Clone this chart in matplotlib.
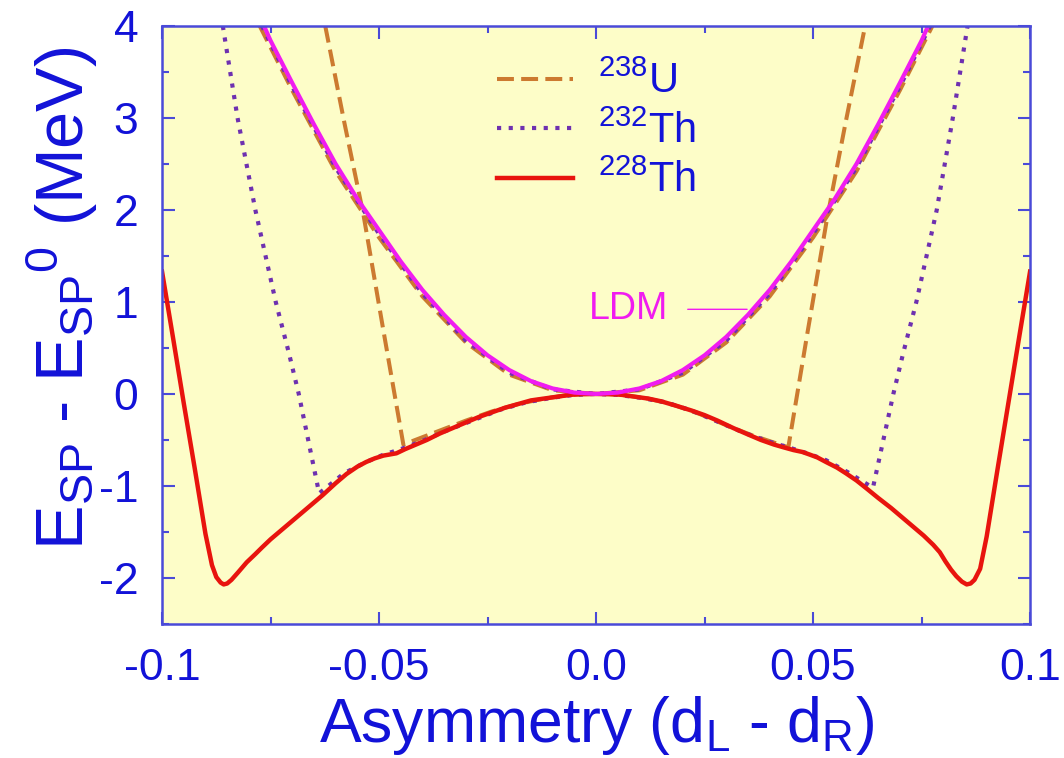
import numpy as np
import matplotlib
matplotlib.use('Agg')
import matplotlib.pyplot as plt
from matplotlib.ticker import MultipleLocator, FixedLocator

plt.rcParams['font.family'] = ['Liberation Sans', 'DejaVu Sans']
plt.rcParams['mathtext.default'] = 'regular'
plt.rcParams['axes.unicode_minus'] = False

# 228Th (solid red)
x_th228 = [-0.100, -0.0975, -0.095, -0.0925, -0.090, -0.0885, -0.0875, -0.0865, -0.0858,
           -0.0850, -0.0840, -0.0825, -0.0805, -0.0785, -0.0770, -0.0750, -0.0730, -0.0705,
           -0.0680, -0.0655, -0.0630, -0.0600, -0.0575, -0.0550, -0.0530, -0.0510, -0.0490,
           -0.0460, -0.0440, -0.0420, -0.0390, -0.0360, -0.0330, -0.0300, -0.0270, -0.0240,
           -0.0210, -0.0180, -0.0150, -0.0120, -0.0090, -0.0060, -0.0030, 0.0,
           0.003, 0.006, 0.009, 0.012, 0.015, 0.0186, 0.022, 0.025, 0.028, 0.0316, 0.035,
           0.038, 0.041, 0.0432, 0.0455, 0.0475, 0.0493, 0.051, 0.053, 0.0555, 0.0575,
           0.060, 0.0624, 0.065, 0.068, 0.0705, 0.073, 0.0755, 0.0777, 0.0792, 0.0805,
           0.0818, 0.0830, 0.0843, 0.0854, 0.0863, 0.0872, 0.0885, 0.090, 0.0925, 0.095,
           0.0975, 0.100]
y_th228 = [1.33, 0.62, -0.10, -0.80, -1.52, -1.86, -1.99, -2.05, -2.07,
           -2.06, -2.02, -1.94, -1.83, -1.74, -1.67, -1.58, -1.50, -1.40,
           -1.30, -1.20, -1.10, -0.97, -0.87, -0.79, -0.74, -0.70, -0.67,
           -0.645, -0.60, -0.56, -0.50, -0.43, -0.37, -0.31, -0.25, -0.20,
           -0.15, -0.11, -0.07, -0.05, -0.03, -0.01, 0.0, 0.0,
           0.0, -0.01, -0.03, -0.05, -0.08, -0.13, -0.18, -0.23, -0.29, -0.37, -0.44,
           -0.50, -0.55, -0.58, -0.61, -0.63, -0.66, -0.69, -0.74, -0.80, -0.86,
           -0.94, -1.03, -1.13, -1.24, -1.34, -1.44, -1.54, -1.64, -1.72, -1.82,
           -1.91, -1.98, -2.04, -2.07, -2.06, -2.02, -1.90, -1.55, -0.82, -0.10,
           0.62, 1.33]

# LDM (magenta)
x_ldm = [-0.0765, -0.075, -0.070, -0.065, -0.060, -0.055, -0.050, -0.045, -0.040, -0.035,
         -0.030, -0.025, -0.020, -0.015, -0.010, -0.005, 0.0,
         0.005, 0.010, 0.015, 0.020, 0.025, 0.030, 0.035, 0.040, 0.045, 0.050, 0.055,
         0.060, 0.065, 0.070, 0.075, 0.0765]
y_ldm = [4.0, 3.84, 3.38, 2.93, 2.50, 2.12, 1.78, 1.44, 1.13, 0.86,
         0.62, 0.42, 0.26, 0.14, 0.06, 0.015, 0.0,
         0.015, 0.06, 0.14, 0.26, 0.42, 0.62, 0.86, 1.13, 1.44, 1.78, 2.12,
         2.50, 2.93, 3.38, 3.84, 4.0]

# 238U (dashed): upper branch and lower branch
x_u238_up = [-0.0775, -0.070, -0.060, -0.050, -0.040, -0.030, -0.020, -0.010, 0.0,
             0.010, 0.020, 0.030, 0.040, 0.050, 0.060, 0.070, 0.0775]
y_u238_up = [4.0, 3.30, 2.42, 1.70, 1.06, 0.56, 0.21, 0.04, 0.0,
             0.04, 0.21, 0.56, 1.06, 1.70, 2.42, 3.30, 4.0]
x_u238_lo = [-0.0624, -0.058, -0.0536, -0.049, -0.0444, -0.040, -0.035, -0.030, -0.024,
             -0.018, -0.012, -0.006, 0.0, 0.006, 0.012, 0.018, 0.024, 0.030, 0.036,
             0.0443, 0.0488, 0.0532, 0.0575, 0.062]
y_u238_lo = [4.0, 2.95, 1.95, 0.69, -0.55, -0.47, -0.38, -0.29, -0.19,
             -0.11, -0.05, -0.01, 0.0, -0.01, -0.05, -0.12, -0.22, -0.34, -0.45,
             -0.58, 0.69, 1.90, 2.95, 4.0]

# 232Th (dotted): upper branch and lower branch
x_th232_up = [-0.0770, -0.070, -0.060, -0.050, -0.040, -0.030, -0.020, -0.010, 0.0,
              0.010, 0.020, 0.030, 0.040, 0.050, 0.060, 0.070, 0.0770]
y_th232_up = [4.0, 3.34, 2.46, 1.74, 1.09, 0.58, 0.23, 0.05, 0.0,
              0.05, 0.23, 0.58, 1.09, 1.74, 2.46, 3.34, 4.0]
x_th232_lo = [-0.0860, -0.0826, -0.0785, -0.0738, -0.0708, -0.0685, -0.0638, -0.058,
              -0.053, -0.049, -0.045, -0.040, -0.034, -0.028, -0.022, -0.016, -0.010,
              -0.005, 0.0, 0.005, 0.010, 0.016, 0.022, 0.028, 0.034, 0.040, 0.045,
              0.049, 0.053, 0.058, 0.0638, 0.0685, 0.0708, 0.0738, 0.0785, 0.0822, 0.0856]
y_th232_lo = [4.0, 3.0, 2.0, 1.0, 0.45, 0.0, -1.08, -0.86,
              -0.74, -0.66, -0.60, -0.51, -0.39, -0.28, -0.17, -0.09, -0.04,
              -0.01, 0.0, -0.01, -0.04, -0.09, -0.18, -0.30, -0.42, -0.52, -0.59,
              -0.65, -0.72, -0.85, -1.02, 0.0, 0.45, 1.0, 2.0, 3.0, 4.0]

labels = [r'$^{238}$U', r'$^{232}$Th', r'$^{228}$Th']

blue = '#1212d8'
fig = plt.figure(figsize=(10.64, 7.58), dpi=100)
ax = fig.add_axes([0.1523, 0.1768, 0.8158, 0.789])
ax.set_facecolor('#fdfdc8')

c_u = '#cc7a30'
c_th232 = '#6e30b0'
c_th228 = '#e8140e'
c_ldm = '#f01cf0'

l1, = ax.plot(x_u238_lo, y_u238_lo, color=c_u, lw=2.9, dashes=(4.2, 1.8), label=labels[0])
ax.plot(x_u238_up, y_u238_up, color=c_u, lw=2.9, dashes=(4.2, 1.8))
l2, = ax.plot(x_th232_lo, y_th232_lo, color=c_th232, lw=3.0, linestyle=(0, (1, 1.8)), label=labels[1])
ax.plot(x_th232_up, y_th232_up, color=c_th232, lw=3.0, linestyle=(0, (1, 1.8)))
l3, = ax.plot(x_th228, y_th228, color=c_th228, lw=3.2, label=labels[2])
ax.plot(x_ldm, y_ldm, color=c_ldm, lw=3.0)

ax.annotate('LDM', xy=(0.0348, 0.92), xytext=(0.0075, 0.92), color=c_ldm, fontsize=27,
            ha='center', va='center',
            arrowprops=dict(arrowstyle='-', color=c_ldm, lw=1.0, shrinkA=12, shrinkB=0))

ax.set_xlim(-0.1, 0.1)
ax.set_ylim(-2.5, 4)
ax.xaxis.set_major_locator(FixedLocator([-0.1, -0.05, 0.0, 0.05, 0.1]))
ax.set_xticklabels(['-0.1', '-0.05', '0.0', '0.05', '0.1'])
ax.xaxis.set_minor_locator(MultipleLocator(0.025))
ax.yaxis.set_major_locator(MultipleLocator(1))
ax.yaxis.set_minor_locator(MultipleLocator(0.5))
ax.tick_params(which='both', direction='in', top=True, right=True, color='#4a4ad8',
               width=1.5, labelcolor=blue, labelsize=32)
ax.tick_params(which='major', length=9)
ax.tick_params(which='minor', length=5)
ax.tick_params(axis='x', pad=17)
ax.tick_params(axis='y', pad=17)
for s in ax.spines.values():
    s.set_color('#4a4ad8')
    s.set_linewidth(1.8)

ax.set_xlabel(r'Asymmetry (d$_L$ - d$_R$)', color=blue, fontsize=45, labelpad=4)
ax.set_ylabel(r'E$_{SP}$ - E$_{SP}{}^{0}$ (MeV)', color=blue, fontsize=48)
ax.yaxis.set_label_coords(-0.071, 0.545)

leg = ax.legend(handles=[l1, l2, l3], loc='upper left', bbox_to_anchor=(0.386, 0.94),
                frameon=False, fontsize=30, handlelength=1.82, handletextpad=0.6,
                labelspacing=0.22, borderaxespad=0, borderpad=0)
for t in leg.get_texts():
    t.set_color(blue)

fig.savefig('out.png', dpi=100)
